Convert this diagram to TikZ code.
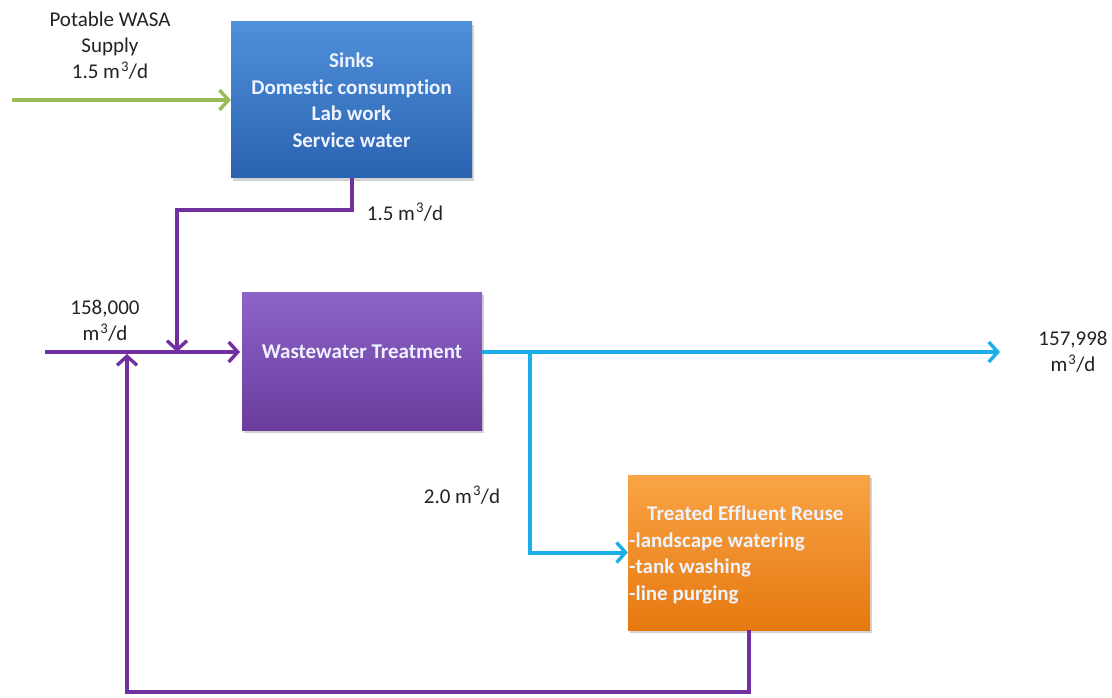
\documentclass[tikz,border=0pt]{standalone}
\usepackage{fontspec}
\setmainfont{Carlito}[Ligatures={NoCommon}]
\usetikzlibrary{arrows.meta,shadows}
\definecolor{sinkTop}{HTML}{4F90DA}
\definecolor{sinkBot}{HTML}{2A62B0}
\definecolor{wtTop}{HTML}{8E64C8}
\definecolor{wtBot}{HTML}{6A3C9E}
\definecolor{reTop}{HTML}{F9A445}
\definecolor{reBot}{HTML}{E6780F}
\definecolor{greenLine}{HTML}{9BBB59}
\definecolor{purpLine}{HTML}{7030A0}
\definecolor{cyanLine}{HTML}{1AAFE6}
\definecolor{boxText}{HTML}{EEF3FF}
\definecolor{labText}{HTML}{222222}
\newcommand{\mcub}{m\kern1pt\textsuperscript{3}/d}
\begin{document}
\begin{tikzpicture}[x=1pt,y=-1pt,
  box/.style={draw=none, rectangle, align=center, text=boxText,
    font=\fontsize{21}{26.5}\selectfont\bfseries,
    drop shadow={shadow xshift=2pt, shadow yshift=-3pt, opacity=0.35}},
  boxtxt/.style={text=boxText, font=\fontsize{21}{26.5}\selectfont\bfseries},
  lab/.style={align=center, text=labText, font=\fontsize{21}{26}\selectfont},
  flow/.style={line width=4pt, -{Straight Barb[length=9pt,width=20pt,line width=3.4pt]}}]
\useasboundingbox (0,0) rectangle (1112,698);

% boxes
\node[box, minimum width=241pt, minimum height=156pt,
  top color=sinkTop, bottom color=sinkBot] (sinks) at (351.5,100)
  {Sinks\\Domestic consumption\\Lab work\\Service water};
\node[box, minimum width=240pt, minimum height=138pt,
  top color=wtTop, bottom color=wtBot] (wt) at (362,361) {};
\node[boxtxt] (wttext) at (362,352) {Wastewater Treatment};
\node[box, minimum width=242pt, minimum height=155pt,
  top color=reTop, bottom color=reBot] (reuse) at (749,552.5) {};
\node[boxtxt, align=left, anchor=west, inner sep=0pt] (reusetext) at (629,555)
  {\hspace{18pt}Treated Effluent Reuse\\-landscape watering\\-tank washing\\-line purging};

% labels
\node[lab] (potable) at (110,46) {Potable WASA\\Supply\\1.5 \mcub};
\node[lab] (lsink) at (405,212) {1.5 \mcub};
\node[lab] (lin) at (105,321) {158,000\\\mcub};
\node[lab] (lout) at (1073,352) {157,998\\\mcub};
\node[lab] (lreuse) at (462,495) {2.0 \mcub};

% coordinates
\coordinate (gin) at (12,100);
\coordinate (in) at (45,352);
\coordinate (j1) at (177,352);
\coordinate (j2) at (127,354);
\coordinate (wtin) at (240,352);
\coordinate (wtout) at (482,352);
\coordinate (br) at (530,352);
\coordinate (out) at (1000,352);

% connectors
\draw[flow, greenLine] (gin) -- (sinks.west |- gin);
\draw[flow, purpLine] (in) -- (wtin);
\draw[flow, purpLine] (sinks.south) -- ++(0,32) -| (j1);
\draw[flow, purpLine] (reuse.south) -- ++(0,62) -| (j2);
\draw[flow, cyanLine] (wtout) -- (out);
\draw[flow, cyanLine] (br) |- (reuse.west);
\end{tikzpicture}
\end{document}
